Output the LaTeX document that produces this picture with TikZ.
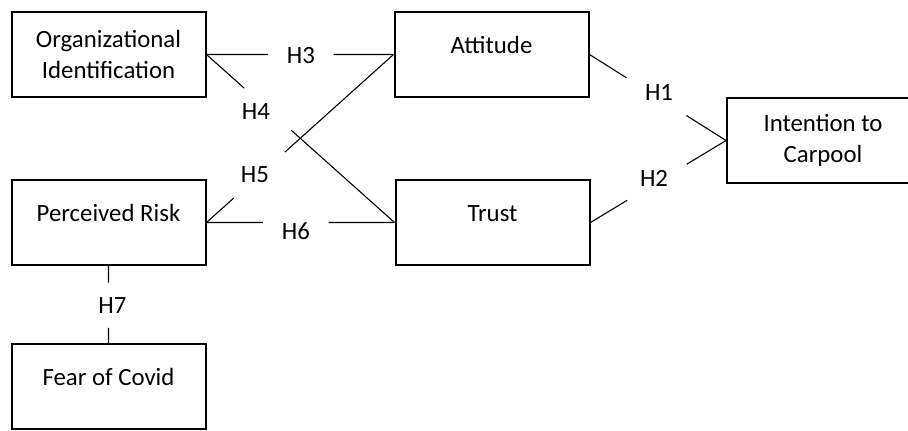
\documentclass[tikz,border=0pt]{standalone}
\usepackage{fontspec}
\setmainfont{Carlito}
\usetikzlibrary{calc}

\tikzset{
  box/.style={draw, line width=1pt, minimum width=97pt, minimum height=42.5pt, align=center},
  onerow/.style={text height=8pt, text depth=9pt},
  hyp/.style={inner sep=0pt},
  link/.style={line width=0.55pt},
}

\begin{document}
\begin{tikzpicture}[x=0.5pt, y=-0.5pt, font=\fontsize{12.4}{15.5}\selectfont]
  \clip (0,0) rectangle (908,431);

  \node[box]        (org-id)    at (108.5,54.5)  {Organizational\\Identification};
  \node[box,onerow] (attitude)  at (491.5,54.5)  {Attitude};
  \node[box,minimum width=96pt] (intention) at (823,140.5) {Intention to\\Carpool};
  \node[box,onerow] (risk)      at (108.5,222.5) {Perceived Risk};
  \node[box,onerow] (trust)     at (492.5,222.5) {Trust};
  \node[box,onerow] (fear)      at (108.5,387)   {Fear of Covid};

  \node[hyp] (h1) at (659,93)    {H1};
  \node[hyp] (h2) at (654,178)   {H2};
  \node[hyp] (h3) at (301,55.5)  {H3};
  \node[hyp] (h4) at (256,111.5) {H4};
  \node[hyp] (h5) at (255,175)   {H5};
  \node[hyp] (h6) at (296,231.5) {H6};
  \node[hyp] (h7) at (112.5,305.5) {H7};

  % each path is broken where its label sits
  \draw[link] (attitude.east) -- ($(attitude.east)!0.27!(intention.west)$)
              ($(attitude.east)!0.71!(intention.west)$) -- (intention.west);
  \draw[link] (trust.east) -- ($(trust.east)!0.27!(intention.west)$)
              ($(trust.east)!0.71!(intention.west)$) -- (intention.west);
  \draw[link] (org-id.east) -- ($(org-id.east)!0.33!(attitude.west)$)
              ($(org-id.east)!0.68!(attitude.west)$) -- (attitude.west);
  \draw[link] (org-id.east) -- ($(org-id.east)!0.20!(trust.west)$)
              ($(org-id.east)!0.45!(trust.west)$) -- (trust.west);
  \draw[link] (risk.east) -- ($(risk.east)!0.145!(attitude.west)$)
              ($(risk.east)!0.42!(attitude.west)$) -- (attitude.west);
  \draw[link] (risk.east) -- ($(risk.east)!0.30!(trust.west)$)
              ($(risk.east)!0.65!(trust.west)$) -- (trust.west);
  \draw[link] (risk.south) -- ($(risk.south)!0.215!(fear.north)$)
              ($(risk.south)!0.80!(fear.north)$) -- (fear.north);
\end{tikzpicture}
\end{document}
